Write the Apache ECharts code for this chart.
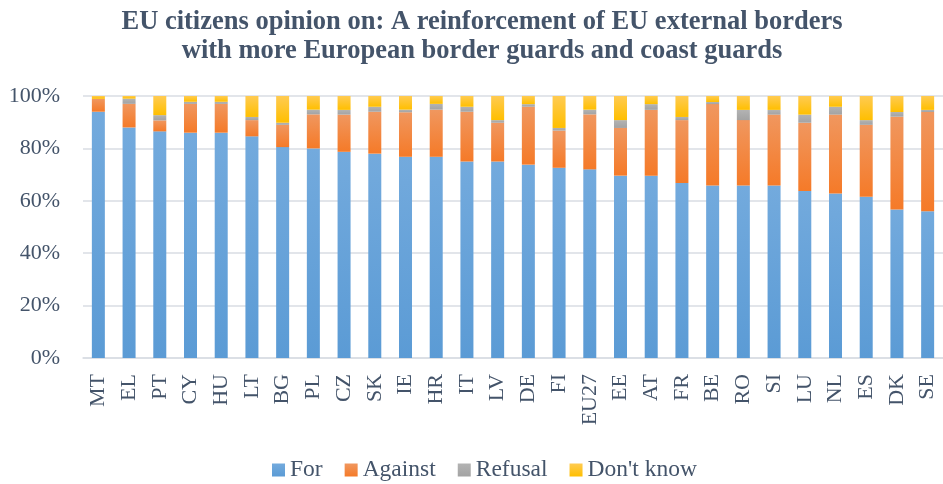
<!DOCTYPE html>
<html>
<head>
<meta charset="utf-8">
<script src="https://cdn.jsdelivr.net/npm/echarts@6/dist/echarts.min.js"></script>
<style>
html,body{margin:0;padding:0;background:#fff;}
#chart{width:943px;height:484px;}
</style>
</head>
<body>
<div id="chart"></div>
<script>
const categories = ["MT","EL","PT","CY","HU","LT","BG","PL","CZ","SK","IE","HR","IT","LV","DE","FI","EU27","EE","AT","FR","BE","RO","SI","LU","NL","ES","DK","SE"];
const forVals     = [94, 88, 86.5, 86, 86, 84.6, 80.5, 80, 78.7, 78, 76.8, 76.8, 75, 75, 73.8, 72.6, 72, 69.6, 69.6, 66.8, 65.8, 65.8, 65.8, 63.7, 62.8, 61.5, 56.7, 56];
const againstVals = [4.9, 9, 4.2, 11, 11, 6.2, 8.5, 13, 14.2, 16, 17, 18, 19, 14.8, 22.1, 14.2, 21, 18.2, 25.1, 24, 31.1, 25, 27.1, 26.1, 30.1, 27.5, 35.4, 37.9];
const refusalVals = [0, 2, 2, 0.8, 0.8, 1.2, 0.8, 1.8, 1.8, 1.9, 1, 2.2, 1.9, 1, 1, 1, 1.8, 3, 2.2, 1.2, 0.8, 3.9, 1.8, 3.1, 3, 1.8, 1.8, 0.8];
const dkVals      = [1.1, 1, 7.3, 2.2, 2.2, 8, 10.2, 5.2, 5.3, 4.1, 5.2, 3, 4.1, 9.2, 3.1, 12.2, 5.2, 9.2, 3.1, 8, 2.3, 5.3, 5.3, 7.1, 4.1, 9.2, 6.1, 5.3];
const seriesNames = ["For", "Against", "Refusal", "Don't know"];
const yTicks = [0, 20, 40, 60, 80, 100];

const textColor = '#44546a';
const font = '"Liberation Serif", "Times New Roman", serif';
function grad(top, bottom) {
  return {type:'linear', x:0, y:0, x2:0, y2:1, colorStops:[{offset:0,color:top},{offset:1,color:bottom}]};
}
const colors = [grad('#73aadd', '#5b9bd5'), grad('#f0975f', '#f57a28'), grad('#b3b3b3', '#a3a3a3'), grad('#ffcb52', '#ffbf00')];
const dataSets = [forVals, againstVals, refusalVals, dkVals];

const chart = echarts.init(document.getElementById('chart'), null, {renderer:'canvas'});
chart.setOption({
  animation: false,
  backgroundColor: '#fff',
  title: {
    text: 'EU citizens opinion on: A reinforcement of EU external borders\nwith more European border guards and coast guards',
    left: 477, top: 3, textAlign: 'center',
    textStyle: {fontFamily: font, fontWeight: 'bold', fontSize: 26.5, color: textColor, lineHeight: 29}
  },
  legend: {
    data: seriesNames,
    top: 458, left: 272, padding: 0,
    itemWidth: 13, itemHeight: 13, itemGap: 22,
    icon: 'rect',
    textStyle: {fontFamily: font, fontSize: 23.5, color: textColor}
  },
  grid: {left: 83, right: -3, top: 96, bottom: 126, containLabel: false},
  xAxis: {
    type: 'category', data: categories,
    axisLine: {lineStyle: {color: '#d9dde3', width: 1.5}},
    axisTick: {show: false},
    axisLabel: {rotate: 90, fontFamily: font, fontSize: 22, color: textColor, margin: 16, interval: 0}
  },
  yAxis: {
    type: 'value', min: 0, max: 100, interval: 20,
    axisLine: {show: false}, axisTick: {show: false},
    splitLine: {lineStyle: {color: '#d9dde3', width: 1.5}},
    axisLabel: {fontFamily: font, fontSize: 22, color: textColor, margin: 23,
      formatter: v => yTicks.includes(v) ? v + '%' : ''}
  },
  series: seriesNames.map((name, i) => ({
    name: name, type: 'bar', stack: 'total', barWidth: 13,
    data: dataSets[i],
    itemStyle: {color: colors[i]}
  }))
});
</script>
</body>
</html>
